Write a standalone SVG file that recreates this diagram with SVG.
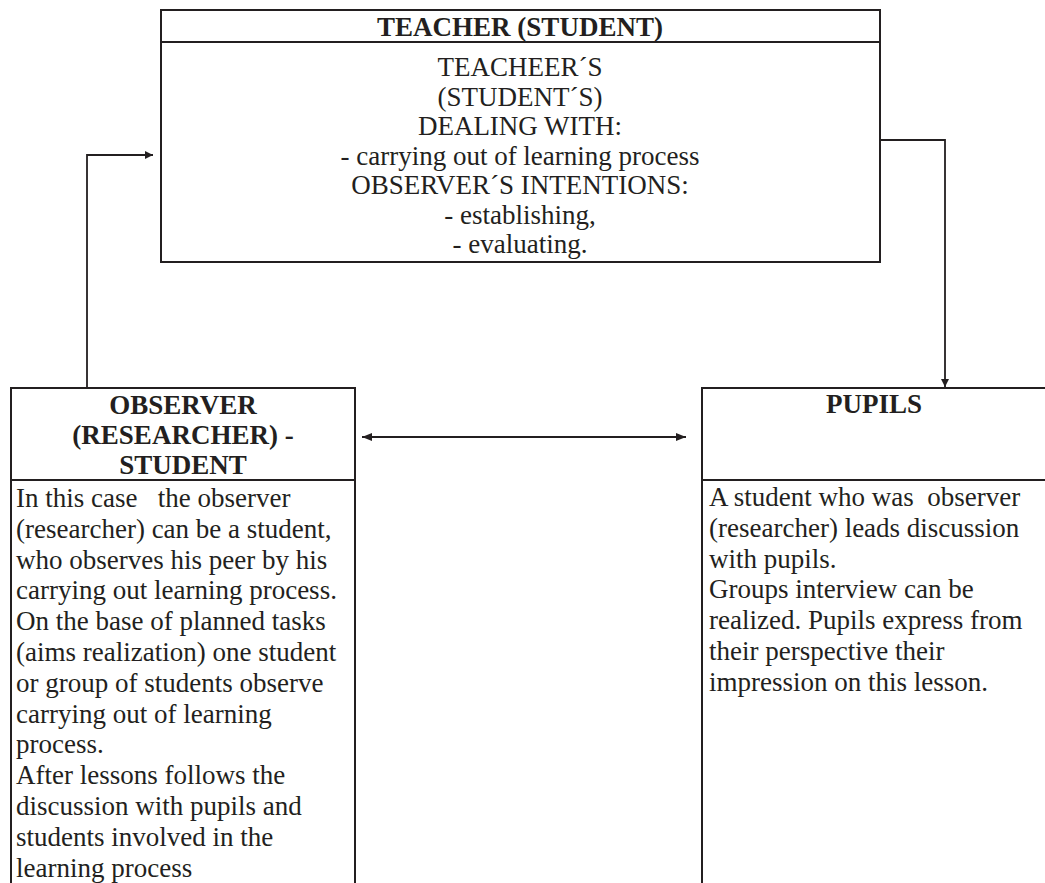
<svg xmlns="http://www.w3.org/2000/svg" width="1045" height="883" viewBox="0 0 1045 883">
<defs>
<style>
.box{fill:#fff;stroke:#231f20;stroke-width:2}
.div{stroke:#231f20;stroke-width:2}
.t{fill:#231f20;font-size:27px;white-space:pre}
.c{text-anchor:middle}
.h{font-weight:bold}
.con{fill:none;stroke:#231f20;stroke-width:1.8}
</style>
<marker id="ah" viewBox="0 0 10 10" refX="10" refY="5" markerWidth="9" markerHeight="8" markerUnits="userSpaceOnUse" orient="auto-start-reverse"><path d="M0,0 L10,5 L0,10 z" fill="#231f20"/></marker>
<marker id="ah2" viewBox="0 0 10 10" refX="10" refY="5" markerWidth="11" markerHeight="10" markerUnits="userSpaceOnUse" orient="auto-start-reverse"><path d="M0,1 L10,5 L0,9 z" fill="#231f20"/></marker>
</defs>
<rect width="1045" height="883" fill="#fff"/>
<g font-family="Liberation Serif, Times New Roman, DejaVu Serif, serif">
<g id="teacher">
<rect class="box" x="161" y="10" width="719" height="252"/>
<line class="div" x1="161" y1="42" x2="880" y2="42"/>
<text class="t c h" x="520" y="36">TEACHER (STUDENT)</text>
<text class="t c" x="520" y="76">TEACHEER´S</text>
<text class="t c" x="520" y="105.5">(STUDENT´S)</text>
<text class="t c" x="520" y="135">DEALING WITH:</text>
<text class="t c" x="520" y="164.5">- carrying out of learning process</text>
<text class="t c" x="520" y="194">OBSERVER´S INTENTIONS:</text>
<text class="t c" x="520" y="223.5">- establishing,</text>
<text class="t c" x="520" y="253">- evaluating.</text>
</g>
<g id="observer">
<rect class="box" x="11" y="388" width="344" height="510"/>
<line class="div" x1="11" y1="480" x2="355" y2="480"/>
<text class="t c h" x="183" y="414">OBSERVER</text>
<text class="t c h" x="183" y="444">(RESEARCHER) -</text>
<text class="t c h" x="183" y="474">STUDENT</text>
<text class="t" x="16" y="507">In this case   the observer</text>
<text class="t" x="16" y="537.8">(researcher) can be a student,</text>
<text class="t" x="16" y="568.6">who observes his peer by his</text>
<text class="t" x="16" y="599.4">carrying out learning process.</text>
<text class="t" x="16" y="630.2">On the base of planned tasks</text>
<text class="t" x="16" y="661">(aims realization) one student</text>
<text class="t" x="16" y="691.8">or group of students observe</text>
<text class="t" x="16" y="722.6">carrying out of learning</text>
<text class="t" x="16" y="753.4">process.</text>
<text class="t" x="16" y="784.2">After lessons follows the</text>
<text class="t" x="16" y="815">discussion with pupils and</text>
<text class="t" x="16" y="845.8">students involved in the</text>
<text class="t" x="16" y="876.6">learning process</text>
</g>
<g id="pupils">
<rect class="box" x="702" y="388" width="344" height="510"/>
<line class="div" x1="702" y1="480" x2="1046" y2="480"/>
<text class="t c h" x="874" y="413">PUPILS</text>
<text class="t" x="709" y="506">A student who was  observer</text>
<text class="t" x="709" y="536.8">(researcher) leads discussion</text>
<text class="t" x="709" y="567.6">with pupils.</text>
<text class="t" x="709" y="598.4">Groups interview can be</text>
<text class="t" x="709" y="629.2">realized. Pupils express from</text>
<text class="t" x="709" y="660">their perspective their</text>
<text class="t" x="709" y="690.8">impression on this lesson.</text>
</g>
</g>
<g id="connectors">
<path class="con" d="M880,140 L945,140 L945,387" marker-end="url(#ah)"/>
<path class="con" d="M87,387 L87,155 L153,155" marker-end="url(#ah)"/>
<path class="con" d="M362,437 L686,437" marker-start="url(#ah2)" marker-end="url(#ah2)"/>
</g>
</svg>
